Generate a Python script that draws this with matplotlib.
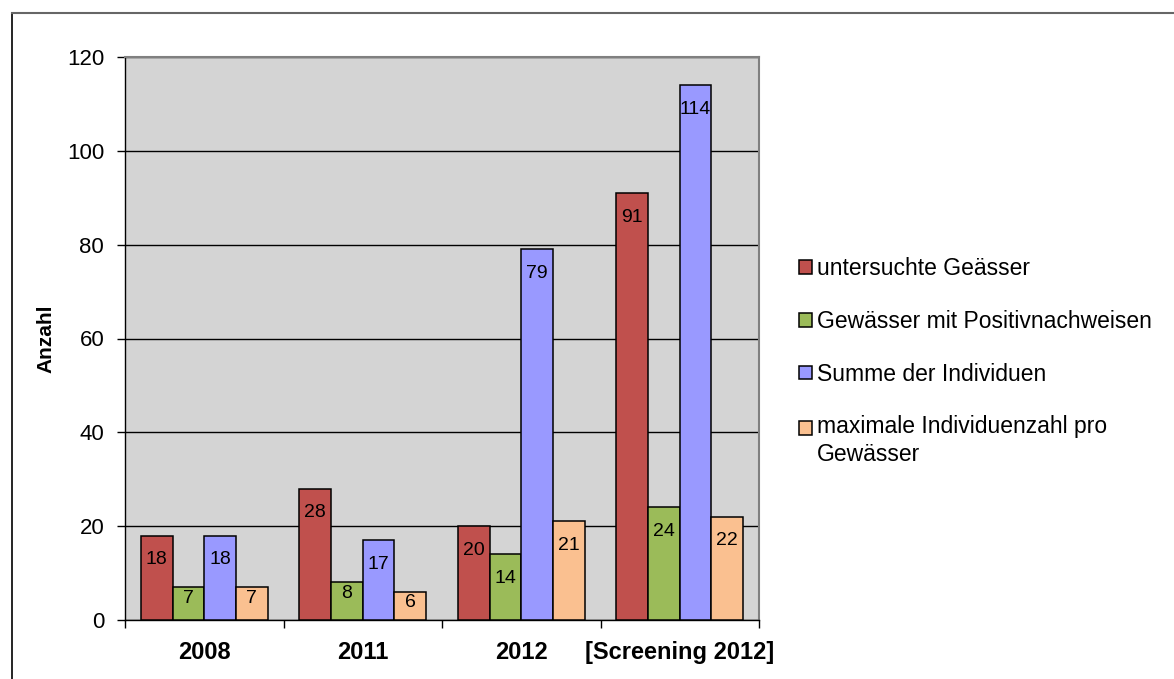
import numpy as np
import matplotlib.pyplot as plt
from matplotlib.lines import Line2D

plt.rcParams['font.family'] = ['Liberation Sans', 'DejaVu Sans']

categories = ['2008', '2011', '2012', '[Screening 2012]']
series = ['untersuchte Geässer', 'Gewässer mit Positivnachweisen',
          'Summe der Individuen', 'maximale Individuenzahl pro\nGewässer']
untersucht = [18, 28, 20, 91]
positiv = [7, 8, 14, 24]
summe = [18, 17, 79, 114]
maximal = [7, 6, 21, 22]
colors = ['#c0504d', '#9bbb59', '#9999ff', '#fac090']

fig = plt.figure(figsize=(11.74, 6.79), dpi=100)
ax = fig.add_axes([125 / 1174, 1 - 620 / 679, 634 / 1174, 563 / 679])
ax.set_facecolor('#d4d4d4')

ind = np.arange(len(categories))
width = 0.2
allvals = [untersucht, positiv, summe, maximal]
for i, (vals, c, name) in enumerate(zip(allvals, colors, series)):
    bars = ax.bar(ind + (i - 1.5) * width, vals, width, color=c,
                  edgecolor='black', linewidth=1.1, label=name, zorder=3)
    for rect, v in zip(bars, vals):
        off = -24 if v >= 10 else -11
        ax.annotate('%d' % v, (rect.get_x() + rect.get_width() / 2, v),
                    xytext=(0, off), textcoords='offset pixels',
                    ha='center', va='center', fontsize=14, zorder=4)

ax.set_xlim(-0.5, len(categories) - 0.5)
ax.set_ylim(0, 120)
ax.set_yticks(range(0, 121, 20))
ax.yaxis.grid(True, color='black', linewidth=1)
ax.set_axisbelow(True)
ax.tick_params(axis='y', labelsize=16, length=6, width=1, pad=9)

# ticks between categories, labels centred
ax.set_xticks(np.arange(-0.5, len(categories), 1))
ax.set_xticklabels([])
ax.set_xticks(ind, minor=True)
ax.set_xticklabels(categories, minor=True, fontsize=17, fontweight='bold')
ax.tick_params(axis='x', which='major', length=6, width=1)
ax.tick_params(axis='x', which='minor', length=0, pad=15)

for s in ['top', 'right']:
    ax.spines[s].set_color('#808080')
    ax.spines[s].set_linewidth(1.5)
for s in ['left', 'bottom']:
    ax.spines[s].set_color('black')
    ax.spines[s].set_linewidth(1)

ax.set_ylabel('Anzahl', fontsize=15, fontweight='bold', labelpad=8)

leg = ax.legend(loc='upper left', bbox_to_anchor=(799 / 1174, 1 - 257 / 679),
                bbox_transform=fig.transFigure, frameon=False, fontsize=16.5,
                handlelength=0.55, handleheight=0.55, handletextpad=0.25,
                labelspacing=1.3, borderpad=0, borderaxespad=0)
for t in leg.get_texts():
    t.set_linespacing(1.25)
# two-line entry: marker goes next to the first line
h = leg.legend_handles[3]
h.set_y(h.get_y() + 10)

# outer chart frame
fig.add_artist(Line2D([12 / 1174, 12 / 1174], [0, 1 - 13 / 679],
                      transform=fig.transFigure, color='black', linewidth=1.2))
fig.add_artist(Line2D([12 / 1174, 1], [1 - 13 / 679, 1 - 13 / 679],
                      transform=fig.transFigure, color='#666666', linewidth=1.5))

fig.savefig('out.png', dpi=100)
